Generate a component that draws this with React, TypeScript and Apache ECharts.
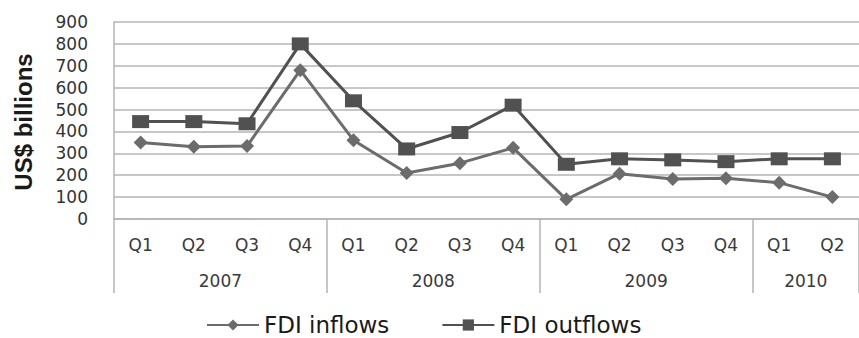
import React, { useEffect, useRef } from "react";
import * as echarts from "echarts";

// Quarterly FDI flows, US$ billions
const quarters = ["Q1", "Q2", "Q3", "Q4", "Q1", "Q2", "Q3", "Q4", "Q1", "Q2", "Q3", "Q4", "Q1", "Q2"];
const years = ["2007", "2008", "2009", "2010"];
const yearCentres = [2, 6, 10, 13];
const yearBounds = [0, 4, 8, 12, 14];
const fdiInflows = [350, 330, 333, 680, 360, 210, 255, 325, 90, 207, 183, 186, 166, 100];
const fdiOutflows = [445, 445, 435, 800, 540, 320, 395, 520, 250, 275, 270, 262, 275, 275];
const yTicks = { min: 0, max: 900, interval: 100 };

const gridGrey = "#b4b4b4";
const font = "'DejaVu Sans', 'Liberation Sans', Arial, sans-serif";

export default function App() {
  const ref = useRef<HTMLDivElement>(null);

  useEffect(() => {
    if (!ref.current) return;
    const chart = echarts.init(ref.current, undefined, { renderer: "svg" });
    chart.setOption({
      animation: false,
      backgroundColor: "#ffffff",
      grid: { left: 114, top: 22, bottom: 119, width: 757 },
      xAxis: [
        {
          type: "category",
          data: quarters,
          boundaryGap: true,
          axisLine: { show: true, lineStyle: { color: gridGrey, width: 1.5 } },
          axisTick: { show: false },
          axisLabel: { color: "#3a3a3a", fontSize: 17, fontFamily: font, margin: 17, interval: 0 },
        },
        {
          type: "value",
          position: "bottom",
          min: 0,
          max: 14,
          splitLine: { show: false },
          axisLine: { show: false },
          axisTick: {
            show: true,
            customValues: yearBounds,
            length: 74,
            lineStyle: { color: gridGrey, width: 1.5 },
          },
          axisLabel: {
            customValues: yearCentres,
            color: "#3a3a3a",
            fontSize: 17,
            fontFamily: font,
            margin: 53,
            formatter: (v: number) => years[yearCentres.indexOf(v)] ?? "",
          },
        },
      ],
      yAxis: {
        type: "value",
        min: yTicks.min,
        max: yTicks.max,
        interval: yTicks.interval,
        axisLine: { show: true, lineStyle: { color: gridGrey, width: 1.5 } },
        axisTick: { show: false },
        splitLine: { show: true, lineStyle: { color: gridGrey, width: 1.5 } },
        axisLabel: { color: "#333333", fontSize: 17, fontFamily: font, margin: 26 },
      },
      graphic: [
        {
          type: "text",
          x: 23,
          y: 122,
          rotation: Math.PI / 2,
          style: {
            text: "US$ billions",
            fill: "#1a1a1a",
            font: "bold 24px 'Liberation Sans', Arial, sans-serif",
            align: "center",
            verticalAlign: "middle",
          },
        },
      ],
      legend: {
        left: 206,
        top: 313,
        padding: 0,
        itemWidth: 52,
        itemHeight: 14,
        itemGap: 52,
        textStyle: { color: "#1a1a1a", fontSize: 23, fontFamily: font, lineHeight: 24 },
        data: ["FDI inflows", "FDI outflows"],
      },
      series: [
        {
          name: "FDI inflows",
          type: "line",
          data: fdiInflows,
          symbol: "diamond",
          symbolSize: [14, 14],
          lineStyle: { color: "#6c6c6c", width: 3 },
          itemStyle: { color: "#6c6c6c" },
        },
        {
          name: "FDI outflows",
          type: "line",
          data: fdiOutflows,
          symbol: "rect",
          symbolSize: [17, 13],
          lineStyle: { color: "#515151", width: 3 },
          itemStyle: { color: "#515151" },
        },
      ],
    });
    return () => chart.dispose();
  }, []);

  return (
    <div
      ref={ref}
      style={{ position: "fixed", left: 0, top: 0, width: 859, height: 338, background: "#fff" }}
    />
  );
}
